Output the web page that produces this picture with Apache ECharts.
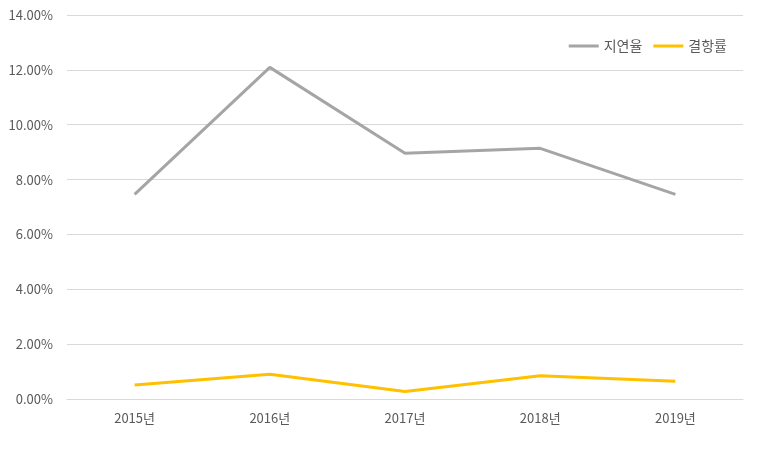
<!DOCTYPE html>
<html>
<head>
<meta charset="utf-8">
<script src="https://cdn.jsdelivr.net/npm/echarts@6/dist/echarts.min.js"></script>
<style>
html,body{margin:0;padding:0;background:#fff;}
#c{width:757px;height:454px;}
</style>
</head>
<body>
<div id="c"></div>
<script>
const categories = ['2015년', '2016년', '2017년', '2018년', '2019년'];
const delayRate = [7.46, 12.09, 8.96, 9.14, 7.46];
const cancelRate = [0.51, 0.90, 0.27, 0.85, 0.65];
const seriesNames = ['지연율', '결항률'];

const chart = echarts.init(document.getElementById('c'), null, {renderer: 'canvas'});
const font = '"Noto Sans CJK KR", "Noto Sans", sans-serif';
chart.setOption({
  animation: false,
  backgroundColor: '#ffffff',
  grid: {left: 67, right: 14, top: 15, bottom: 55, containLabel: false},
  legend: {
    right: 25, top: 34,
    icon: 'rect', itemWidth: 30, itemHeight: 3, itemGap: 11,
    textStyle: {fontFamily: font, fontSize: 14, color: '#595959'},
    data: seriesNames
  },
  xAxis: {
    type: 'category',
    data: categories,
    boundaryGap: true,
    axisLine: {lineStyle: {color: '#d9d9d9', width: 1}},
    axisTick: {show: false},
    axisLabel: {fontFamily: font, fontSize: 13, color: '#595959', margin: 13}
  },
  yAxis: {
    type: 'value',
    min: 0, max: 14, interval: 2,
    axisLine: {show: false},
    axisTick: {show: false},
    splitLine: {lineStyle: {color: '#d9d9d9', width: 1}},
    axisLabel: {fontFamily: font, fontSize: 13, color: '#595959', margin: 14,
      formatter: v => v.toFixed(2) + '%'}
  },
  series: [
    {name: seriesNames[0], type: 'line', data: delayRate, symbol: 'none',
      lineStyle: {color: '#a5a5a5', width: 3}, itemStyle: {color: '#a5a5a5'}},
    {name: seriesNames[1], type: 'line', data: cancelRate, symbol: 'none',
      lineStyle: {color: '#ffc000', width: 3}, itemStyle: {color: '#ffc000'}}
  ]
});
</script>
</body>
</html>
